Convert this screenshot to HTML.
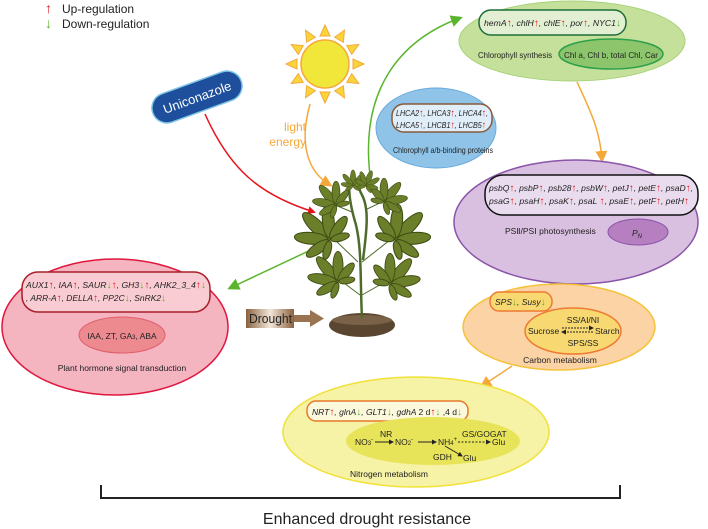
<!DOCTYPE html>
<html><head><meta charset="utf-8"><style>
html,body{margin:0;padding:0;background:#fff;}
svg{display:block;font-family:"Liberation Sans",Arial,sans-serif;}
.g{font-style:italic;font-size:8.5px;fill:#222;}
.u{fill:#e8141c;font-style:normal;font-weight:bold;font-size:10px;}
.d{fill:#5ab52e;font-style:normal;font-weight:bold;font-size:10px;}
.t{font-size:8.5px;fill:#222;}
</style></head><body>
<svg width="708" height="529" viewBox="0 0 708 529">
<defs>
<marker id="mr" markerWidth="8" markerHeight="8" refX="6" refY="4" orient="auto" markerUnits="userSpaceOnUse"><path d="M0,0 L8,4 L0,8 Z" fill="#e8141c"/></marker>
<marker id="mg" markerWidth="12" markerHeight="12" refX="9" refY="6" orient="auto" markerUnits="userSpaceOnUse"><path d="M0,0 L12,6 L0,12 Z" fill="#5ab52e"/></marker>
<marker id="mo" markerWidth="12" markerHeight="12" refX="9" refY="6" orient="auto" markerUnits="userSpaceOnUse"><path d="M0,0 L12,6 L0,12 Z" fill="#f5a83a"/></marker>
<marker id="mk" markerWidth="5" markerHeight="5" refX="4" refY="2.5" orient="auto" markerUnits="userSpaceOnUse"><path d="M0,0 L5,2.5 L0,5 Z" fill="#222"/></marker>
<g id="leaf" fill="#6b7f2a" stroke="#3e4d14" stroke-width="0.5">
<ellipse cx="0" cy="-9" rx="3" ry="9"/>
<ellipse cx="0" cy="-9" rx="2.8" ry="8" transform="rotate(40)"/>
<ellipse cx="0" cy="-9" rx="2.8" ry="8" transform="rotate(-40)"/>
<ellipse cx="0" cy="-7" rx="2.4" ry="6.5" transform="rotate(80)"/>
<ellipse cx="0" cy="-7" rx="2.4" ry="6.5" transform="rotate(-80)"/>
<ellipse cx="0" cy="-5" rx="1.8" ry="4.5" transform="rotate(120)"/>
<ellipse cx="0" cy="-5" rx="1.8" ry="4.5" transform="rotate(-120)"/>
</g>
<linearGradient id="dg" x1="0" x2="1"><stop offset="0" stop-color="#8a6240"/><stop offset="0.5" stop-color="#f2e6d8"/><stop offset="1" stop-color="#8a6240"/></linearGradient>
</defs>

<!-- legend -->
<text x="45" y="13" font-size="14" fill="#e8141c" font-weight="bold">↑</text>
<text x="62" y="13" font-size="12" fill="#222">Up-regulation</text>
<text x="45" y="28" font-size="14" fill="#5ab52e" font-weight="bold">↓</text>
<text x="62" y="28" font-size="12" fill="#222">Down-regulation</text>

<!-- sun -->
<g transform="translate(325,64)">
<g fill="#f8d63a" stroke="#f5a83a" stroke-width="1">
<polygon points="-5,-28 5,-28 0,-39" transform="rotate(0)"/>
<polygon points="-5,-28 5,-28 0,-39" transform="rotate(30)"/>
<polygon points="-5,-28 5,-28 0,-39" transform="rotate(60)"/>
<polygon points="-5,-28 5,-28 0,-39" transform="rotate(90)"/>
<polygon points="-5,-28 5,-28 0,-39" transform="rotate(120)"/>
<polygon points="-5,-28 5,-28 0,-39" transform="rotate(150)"/>
<polygon points="-5,-28 5,-28 0,-39" transform="rotate(180)"/>
<polygon points="-5,-28 5,-28 0,-39" transform="rotate(210)"/>
<polygon points="-5,-28 5,-28 0,-39" transform="rotate(240)"/>
<polygon points="-5,-28 5,-28 0,-39" transform="rotate(270)"/>
<polygon points="-5,-28 5,-28 0,-39" transform="rotate(300)"/>
<polygon points="-5,-28 5,-28 0,-39" transform="rotate(330)"/>
</g>
<circle r="24" fill="#f1e63a" stroke="#f5a83a" stroke-width="1.5"/>
</g>
<text x="306" y="131" font-size="12" fill="#f5a83a" text-anchor="end">light</text>
<text x="306" y="146" font-size="12" fill="#f5a83a" text-anchor="end">energy</text>
<path d="M310,104 C300,140 305,170 330,185" fill="none" stroke="#f5a83a" stroke-width="1.5" marker-end="url(#mo)"/>

<!-- uniconazole -->
<g transform="translate(197,97) rotate(-20)">
<rect x="-47" y="-15" width="94" height="30" rx="15" fill="#1e4f9c" stroke="#7fc6e6" stroke-width="1.5"/>
<text x="0" y="5" font-size="13" fill="#fff" text-anchor="middle">Uniconazole</text>
</g>
<path d="M205,114 C230,170 260,195 314,212" fill="none" stroke="#e8141c" stroke-width="1.5" marker-end="url(#mr)"/>

<!-- arrows -->
<path d="M370,175 C360,90 400,40 460,18" fill="none" stroke="#5ab52e" stroke-width="1.5" marker-end="url(#mg)"/>
<path d="M315,248 L230,288" fill="none" stroke="#5ab52e" stroke-width="1.5" marker-end="url(#mg)"/>
<path d="M577,82 C590,110 600,130 602,160" fill="none" stroke="#f5a83a" stroke-width="1.5" marker-end="url(#mo)"/>
<path d="M584,258 L574,286" fill="none" stroke="#f5a83a" stroke-width="1.5" marker-end="url(#mo)"/>
<path d="M512,366 L482,386" fill="none" stroke="#f5a83a" stroke-width="1.5" marker-end="url(#mo)"/>

<!-- drought -->
<rect x="246" y="309" width="48" height="19" fill="url(#dg)"/>
<text x="249" y="323" font-size="12.5" fill="#222" textLength="43" lengthAdjust="spacingAndGlyphs">Drought</text>
<rect x="294" y="315" width="16" height="7" fill="#9a7350"/>
<polygon points="310,310 324,318.5 310,327" fill="#9a7350"/>

<!-- plant -->
<ellipse cx="362" cy="325" rx="33" ry="12" fill="#5a4530"/>
<ellipse cx="362" cy="320" rx="30" ry="5" fill="#7a6248"/>
<g fill="none" stroke="#4e6b2c" stroke-width="2.5">
<path d="M362,318 C360,280 362,250 356,225 C350,205 348,190 350,180"/>
<path d="M363,260 C366,235 370,210 362,195 C358,188 358,182 360,178"/>
</g>
<g fill="none" stroke="#4e6b2c" stroke-width="1">
<path d="M360,295 L340,280 M362,295 L385,282 M358,262 L335,240 M362,262 L390,240 M352,212 L335,205 M365,210 L382,202"/>
</g>
<use href="#leaf" transform="translate(338,282) scale(1.8) rotate(-40)"/>
<use href="#leaf" transform="translate(390,284) scale(1.8) rotate(40)"/>
<use href="#leaf" transform="translate(330,240) scale(2.1) rotate(-45)"/>
<use href="#leaf" transform="translate(395,240) scale(2.1) rotate(45)"/>
<use href="#leaf" transform="translate(336,205) scale(1.4) rotate(-40)"/>
<use href="#leaf" transform="translate(384,202) scale(1.4) rotate(40)"/>
<use href="#leaf" transform="translate(353,186) scale(0.9)"/>
<use href="#leaf" transform="translate(366,186) scale(0.9) rotate(20)"/>

<!-- green chlorophyll -->
<ellipse cx="572" cy="41" rx="113" ry="40" fill="#c5e09a" stroke="#a7d27a" stroke-width="1"/>
<rect x="479" y="10" width="147" height="25" rx="12" fill="#e2efd2" stroke="#1d6e3a" stroke-width="1.5"/>
<text x="484" y="26" class="g" textLength="137" lengthAdjust="spacingAndGlyphs">hemA<tspan class="u">↑</tspan>, chlH<tspan class="u">↑</tspan>, chlE<tspan class="u">↑</tspan>, por<tspan class="u">↑</tspan>, NYC1<tspan class="d">↓</tspan></text>
<ellipse cx="611" cy="54" rx="52" ry="15" fill="#8cc56c" stroke="#2da04a" stroke-width="1.5"/>
<text x="478" y="58" class="t" textLength="74" lengthAdjust="spacingAndGlyphs">Chlorophyll synthesis</text>
<text x="611" y="58" class="t" text-anchor="middle" textLength="94" lengthAdjust="spacingAndGlyphs">Chl a, Chl b, total Chl, Car</text>

<!-- blue -->
<ellipse cx="436" cy="128" rx="60" ry="40" fill="#8fc4e8" stroke="#6aaadb" stroke-width="1"/>
<rect x="392" y="104" width="100" height="28" rx="12" fill="#dfeef8" stroke="#8a5a3a" stroke-width="1.5"/>
<text x="396" y="116" class="g" textLength="92" lengthAdjust="spacingAndGlyphs">LHCA2<tspan class="u">↑</tspan>, LHCA3<tspan class="u">↑</tspan>, LHCA4<tspan class="u">↑</tspan>,</text>
<text x="396" y="128" class="g" textLength="90" lengthAdjust="spacingAndGlyphs">LHCA5<tspan class="u">↑</tspan>, LHCB1<tspan class="u">↑</tspan>, LHCB5<tspan class="u">↑</tspan></text>
<text x="393" y="153" class="t" textLength="100" lengthAdjust="spacingAndGlyphs">Chlorophyll a/b-binding proteins</text>

<!-- purple -->
<ellipse cx="576" cy="222" rx="122" ry="62" fill="#d9bfe0" stroke="#8a54a8" stroke-width="1.5"/>
<rect x="485" y="175" width="213" height="40" rx="18" fill="#e9dcef" stroke="#111" stroke-width="1.5"/>
<text x="489" y="191" class="g" textLength="204" lengthAdjust="spacingAndGlyphs">psbQ<tspan class="u">↑</tspan>, psbP<tspan class="u">↑</tspan>, psb28<tspan class="u">↑</tspan>, psbW<tspan class="u">↑</tspan>, petJ<tspan class="u">↑</tspan>, petE<tspan class="u">↑</tspan>, psaD<tspan class="u">↑</tspan>,</text>
<text x="489" y="204" class="g" textLength="200" lengthAdjust="spacingAndGlyphs">psaG<tspan class="u">↑</tspan>, psaH<tspan class="u">↑</tspan>, psaK<tspan class="u">↑</tspan>, psaL <tspan class="u">↑</tspan>, psaE<tspan class="u">↑</tspan>, petF<tspan class="u">↑</tspan>, petH<tspan class="u">↑</tspan></text>
<ellipse cx="638" cy="232" rx="30" ry="13" fill="#b57fc0" stroke="#8a54a8" stroke-width="1"/>
<text x="505" y="234" class="t">PSⅡ/PSⅠ   photosynthesis</text>
<text x="632" y="236" class="g">P<tspan font-size="6" dy="2">N</tspan></text>

<!-- orange -->
<ellipse cx="559" cy="327" rx="96" ry="43" fill="#fbd3a4" stroke="#f5c23a" stroke-width="1.5"/>
<rect x="490" y="292" width="62" height="19" rx="9" fill="#f8d870" stroke="#ee7a32" stroke-width="1.5"/>
<text x="495" y="305" class="g">SPS<tspan class="d">↓</tspan>, Susy<tspan class="d">↓</tspan></text>
<ellipse cx="573" cy="331" rx="48" ry="23" fill="#f8d870" stroke="#ee7a32" stroke-width="1.5"/>
<text x="583" y="323" class="t" text-anchor="middle">SS/AI/NI</text>
<text x="528" y="334" class="t">Sucrose</text>
<text x="595" y="334" class="t">Starch</text>
<text x="583" y="346" class="t" text-anchor="middle">SPS/SS</text>
<line x1="562" y1="328" x2="593" y2="328" stroke="#222" stroke-dasharray="2,1" marker-end="url(#mk)"/>
<line x1="593" y1="332" x2="562" y2="332" stroke="#222" stroke-dasharray="2,1" marker-end="url(#mk)"/>
<text x="560" y="363" class="t" font-size="8" text-anchor="middle">Carbon metabolism</text>

<!-- yellow nitrogen -->
<ellipse cx="416" cy="432" rx="133" ry="55" fill="#f6f2a6" stroke="#f0e23a" stroke-width="1.5"/>
<rect x="307" y="401" width="161" height="20" rx="9" fill="#fbf8dc" stroke="#e8782a" stroke-width="1.5"/>
<text x="312" y="415" class="g" textLength="150" lengthAdjust="spacingAndGlyphs">NRT<tspan class="u">↑</tspan>, glnA<tspan class="d">↓</tspan>, GLT1<tspan class="d">↓</tspan>, gdhA <tspan font-style="normal">2 d</tspan><tspan class="u">↑</tspan><tspan class="d">↓</tspan><tspan font-style="normal"> ,4 d</tspan><tspan class="d">↓</tspan></text>
<ellipse cx="433" cy="441" rx="87" ry="24" fill="#e8e45a"/>
<text x="355" y="445" class="t">NO<tspan font-size="6">3</tspan><tspan font-size="6" dy="-4">-</tspan></text>
<text x="380" y="437" class="t">NR</text>
<line x1="375" y1="442" x2="393" y2="442" stroke="#222" marker-end="url(#mk)"/>
<text x="395" y="445" class="t">NO<tspan font-size="6">2</tspan><tspan font-size="6" dy="-4">-</tspan></text>
<line x1="418" y1="442" x2="436" y2="442" stroke="#222" marker-end="url(#mk)"/>
<text x="438" y="445" class="t">NH<tspan font-size="6">4</tspan><tspan font-size="6" dy="-4">+</tspan></text>
<text x="462" y="437" class="t">GS/GOGAT</text>
<line x1="458" y1="442" x2="490" y2="442" stroke="#222" stroke-dasharray="2,1.5" marker-end="url(#mk)"/>
<text x="492" y="445" class="t">Glu</text>
<line x1="445" y1="446" x2="462" y2="456" stroke="#222" marker-end="url(#mk)"/>
<text x="433" y="460" class="t">GDH</text>
<text x="463" y="461" class="t">Glu</text>
<text x="350" y="477" class="t" font-size="8">Nitrogen metabolism</text>

<!-- pink -->
<ellipse cx="115" cy="327" rx="113" ry="68" fill="#f4b4c0" stroke="#e0173d" stroke-width="1.5"/>
<rect x="22" y="272" width="188" height="40" rx="16" fill="#f8ccd2" stroke="#a81e2a" stroke-width="1.5"/>
<text x="26" y="288" class="g" textLength="180" lengthAdjust="spacingAndGlyphs">AUX1<tspan class="u">↑</tspan>, IAA<tspan class="u">↑</tspan>, SAUR<tspan class="d">↓</tspan><tspan class="u">↑</tspan>, GH3<tspan class="d">↓</tspan><tspan class="u">↑</tspan>, AHK2_3_4<tspan class="u">↑</tspan><tspan class="d">↓</tspan></text>
<text x="26" y="301" class="g" textLength="140" lengthAdjust="spacingAndGlyphs">, ARR-A<tspan class="u">↑</tspan>, DELLA<tspan class="u">↑</tspan>, PP2C<tspan class="d">↓</tspan>, SnRK2<tspan class="d">↓</tspan></text>
<ellipse cx="122" cy="335" rx="43" ry="18" fill="#ec8a90" stroke="#e0606a" stroke-width="1"/>
<text x="122" y="339" class="t" text-anchor="middle">IAA, ZT, GA<tspan font-size="6">3</tspan>, ABA</text>
<text x="122" y="371" class="t" font-size="8" text-anchor="middle">Plant hormone signal transduction</text>

<!-- bracket -->
<path d="M101,485 L101,498 L620,498 L620,485" fill="none" stroke="#222" stroke-width="2"/>
<text x="367" y="524" font-size="16" fill="#222" text-anchor="middle">Enhanced drought resistance</text>
</svg>
</body></html>
